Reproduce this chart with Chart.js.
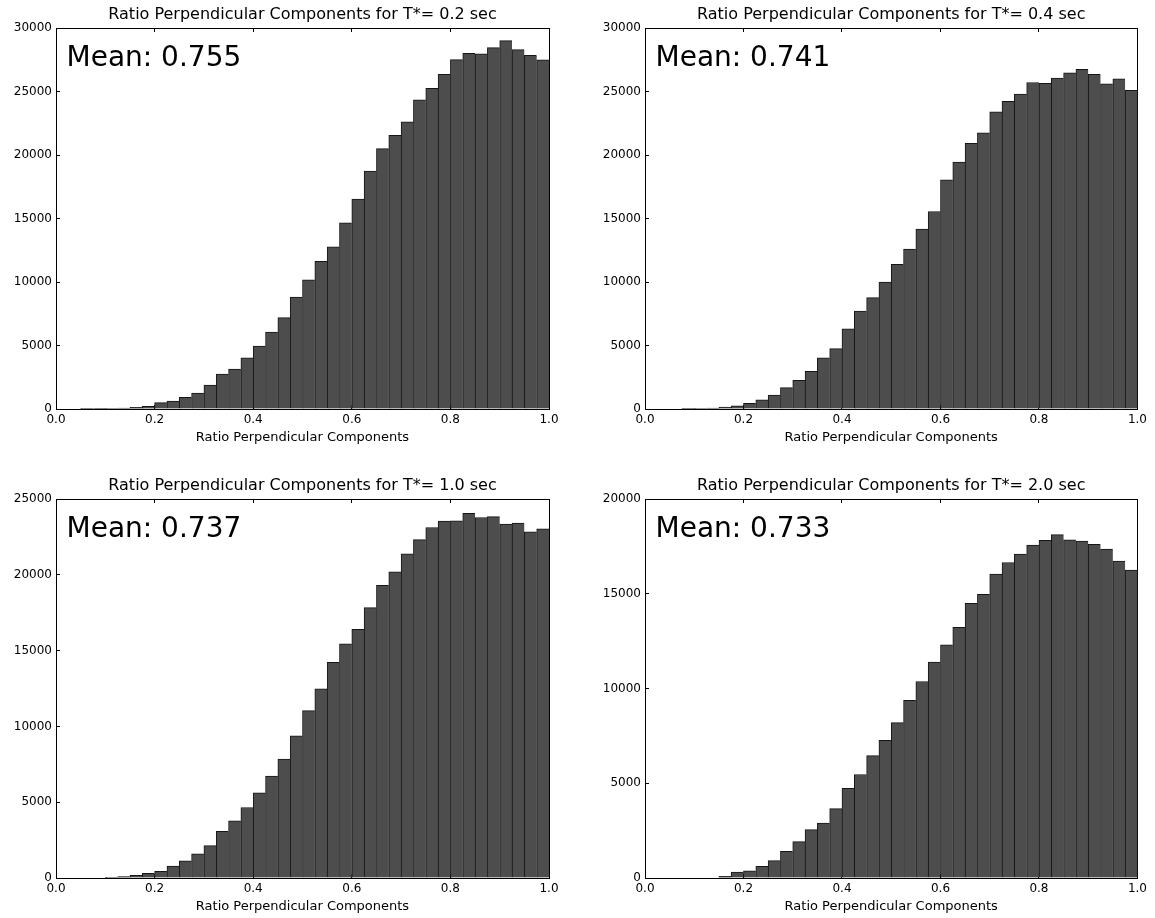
<!DOCTYPE html>
<html>
<head>
<meta charset="utf-8">
<title>Ratio Perpendicular Components</title>
<script src="https://cdn.jsdelivr.net/npm/chart.js@4.4.1/dist/chart.umd.min.js"></script>
<style>
  html, body { margin: 0; padding: 0; background: #fff; }
  #page { position: relative; width: 1155px; height: 918px; overflow: hidden; background: #fff; }
  #page canvas { position: absolute; }
</style>
</head>
<body>
<div id="page">
  <canvas id="chartT02" width="590" height="455" style="left:0px;top:0px"></canvas>
  <canvas id="chartT04" width="565" height="455" style="left:590px;top:0px"></canvas>
  <canvas id="chartT10" width="590" height="463" style="left:0px;top:455px"></canvas>
  <canvas id="chartT20" width="565" height="463" style="left:590px;top:455px"></canvas>
</div>
<script>
// --- histogram bins (left edge of each bin, width 0.025) ---
const binStart = [
  0.000, 0.025, 0.050, 0.075, 0.100, 0.125, 0.150, 0.175, 0.200, 0.225,
  0.250, 0.275, 0.300, 0.325, 0.350, 0.375, 0.400, 0.425, 0.450, 0.475,
  0.500, 0.525, 0.550, 0.575, 0.600, 0.625, 0.650, 0.675, 0.700, 0.725,
  0.750, 0.775, 0.800, 0.825, 0.850, 0.875, 0.900, 0.925, 0.950, 0.975
];
const binWidth = 0.025;

// --- counts per bin for each T* ---
const countsT02 = [
  0, 0, 10, 20, 30, 80, 130, 210, 500, 620,
  920, 1250, 1880, 2740, 3140, 4030, 4950, 6050, 7200, 8820,
  10180, 11620, 12770, 14660, 16520, 18740, 20500, 21540, 22620, 24350,
  25240, 26360, 27510, 28010, 27960, 28450, 29000, 28300, 27850, 27490
];
const countsT04 = [
  0, 0, 0, 10, 30, 80, 160, 250, 440, 730,
  1100, 1680, 2250, 2960, 4030, 4760, 6310, 7720, 8770, 10000,
  11390, 12590, 14160, 15550, 18040, 19450, 20920, 21750, 23400, 24220,
  24790, 25710, 25650, 26050, 26470, 26750, 26360, 25600, 25990, 25100
];
const countsT10 = [
  0, 0, 0, 0, 20, 100, 170, 300, 440, 790,
  1130, 1590, 2140, 3080, 3770, 4650, 5610, 6720, 7850, 9380,
  11040, 12480, 14220, 15450, 16400, 17840, 19310, 20200, 21380, 22320,
  23120, 23540, 23560, 24060, 23780, 23840, 23340, 23410, 22840, 23040
];
const countsT20 = [
  0, 0, 0, 0, 0, 0, 90, 310, 380, 610,
  920, 1410, 1920, 2550, 2900, 3660, 4730, 5460, 6460, 7260,
  8200, 9370, 10370, 11400, 12300, 13230, 14500, 14970, 16040, 16650,
  17100, 17570, 17820, 18120, 17850, 17780, 17610, 17360, 16720, 16250
];

// --- tick values ---
const xTickValues = [0.0, 0.2, 0.4, 0.6, 0.8, 1.0];
const yTicks30k = [0, 5000, 10000, 15000, 20000, 25000, 30000];
const yTicks25k = [0, 5000, 10000, 15000, 20000, 25000];
const yTicks20k = [0, 5000, 10000, 15000, 20000];

const xAxisTitle = 'Ratio Perpendicular Components';

Chart.defaults.font.family = '"DejaVu Sans", sans-serif';
Chart.defaults.color = '#000';

// "Mean: x.xxx" text in the upper left corner of the plot area
const meanLabelPlugin = {
  id: 'meanLabel',
  afterDraw(chart, args, opts) {
    const { ctx, chartArea } = chart;
    ctx.save();
    ctx.font = '28px "DejaVu Sans", sans-serif';
    ctx.fillStyle = '#000';
    ctx.textAlign = 'left';
    ctx.textBaseline = 'alphabetic';
    ctx.fillText(opts.text, chartArea.left + 10.5, chartArea.top + 38);
    ctx.restore();
  }
};

// ticks pointing into the plot, matplotlib style
const tickGrid = { drawOnChartArea: false, drawTicks: true, tickLength: -4, color: '#000', lineWidth: 1, offset: false };
const frame = { display: true, color: '#000', width: 1 };

function setupChart(canvasId, titleText, counts, meanText, yMax, yTickValues, box) {
  const canvas = document.getElementById(canvasId);
  const W = canvas.width;
  const H = canvas.height;

  const setXTicks = scale => { scale.ticks = xTickValues.map(v => ({ value: v })); };
  const setYTicks = scale => { scale.ticks = yTickValues.map(v => ({ value: v })); };

  return new Chart(canvas.getContext('2d'), {
    type: 'bar',
    data: {
      datasets: [{
        data: binStart.map((s, i) => ({ x: s + binWidth / 2, y: counts[i] })),
        backgroundColor: '#4d4d4d',
        borderColor: '#151515',
        borderWidth: { top: 1, left: 1, right: 0, bottom: 0 },
        borderSkipped: false,
        categoryPercentage: 1.0,
        barPercentage: 1.0
      }]
    },
    options: {
      responsive: false,
      animation: false,
      events: [],
      layout: { padding: { left: 0, top: 0, right: W - box.right, bottom: 0 } },
      scales: {
        x: {
          type: 'linear', position: 'bottom', min: 0, max: 1, offset: false, z: 1,
          grid: tickGrid, border: frame,
          afterBuildTicks: setXTicks,
          ticks: {
            padding: 8, maxRotation: 0, autoSkip: false, color: '#000',
            font: { size: 12 },
            callback: v => Number(v).toFixed(1)
          },
          title: {
            display: true, text: xAxisTitle, color: '#000',
            font: { size: 13 },
            padding: { top: 0, bottom: H - box.labelY - 7.8 }
          },
          afterFit: scale => { scale.height = H - box.bottom; }
        },
        x2: {
          type: 'linear', position: 'top', min: 0, max: 1, offset: false, z: 1,
          grid: tickGrid, border: frame,
          afterBuildTicks: setXTicks,
          ticks: { display: false },
          afterFit: scale => { scale.height = 0; }
        },
        y: {
          type: 'linear', position: 'left', min: 0, max: yMax, z: 1,
          grid: tickGrid, border: frame,
          afterBuildTicks: setYTicks,
          ticks: {
            padding: 8, color: '#000',
            font: { size: 12 },
            callback: v => String(v)
          },
          afterFit: scale => { scale.width = box.left; }
        },
        y2: {
          type: 'linear', position: 'right', min: 0, max: yMax, z: 1,
          grid: tickGrid, border: frame,
          afterBuildTicks: setYTicks,
          ticks: { display: false },
          afterFit: scale => { scale.width = 0; }
        }
      },
      plugins: {
        legend: { display: false },
        tooltip: { enabled: false },
        title: {
          display: true,
          text: titleText,
          fullSize: false,
          color: '#000',
          font: { size: 16, weight: 'normal' },
          padding: { top: box.top - 23.2, bottom: 4.0 }
        },
        meanLabel: { text: meanText }
      }
    },
    plugins: [meanLabelPlugin]
  });
}

setupChart('chartT02', 'Ratio Perpendicular Components for T*= 0.2 sec', countsT02, 'Mean: 0.755', 30000, yTicks30k,
  { left: 56, right: 549, top: 28, bottom: 409, labelY: 437.5 });
setupChart('chartT04', 'Ratio Perpendicular Components for T*= 0.4 sec', countsT04, 'Mean: 0.741', 30000, yTicks30k,
  { left: 55, right: 548, top: 28, bottom: 409, labelY: 437.5 });
setupChart('chartT10', 'Ratio Perpendicular Components for T*= 1.0 sec', countsT10, 'Mean: 0.737', 25000, yTicks25k,
  { left: 56, right: 549, top: 44, bottom: 423, labelY: 451.8 });
setupChart('chartT20', 'Ratio Perpendicular Components for T*= 2.0 sec', countsT20, 'Mean: 0.733', 20000, yTicks20k,
  { left: 55, right: 548, top: 44, bottom: 423, labelY: 451.8 });
</script>
</body>
</html>
